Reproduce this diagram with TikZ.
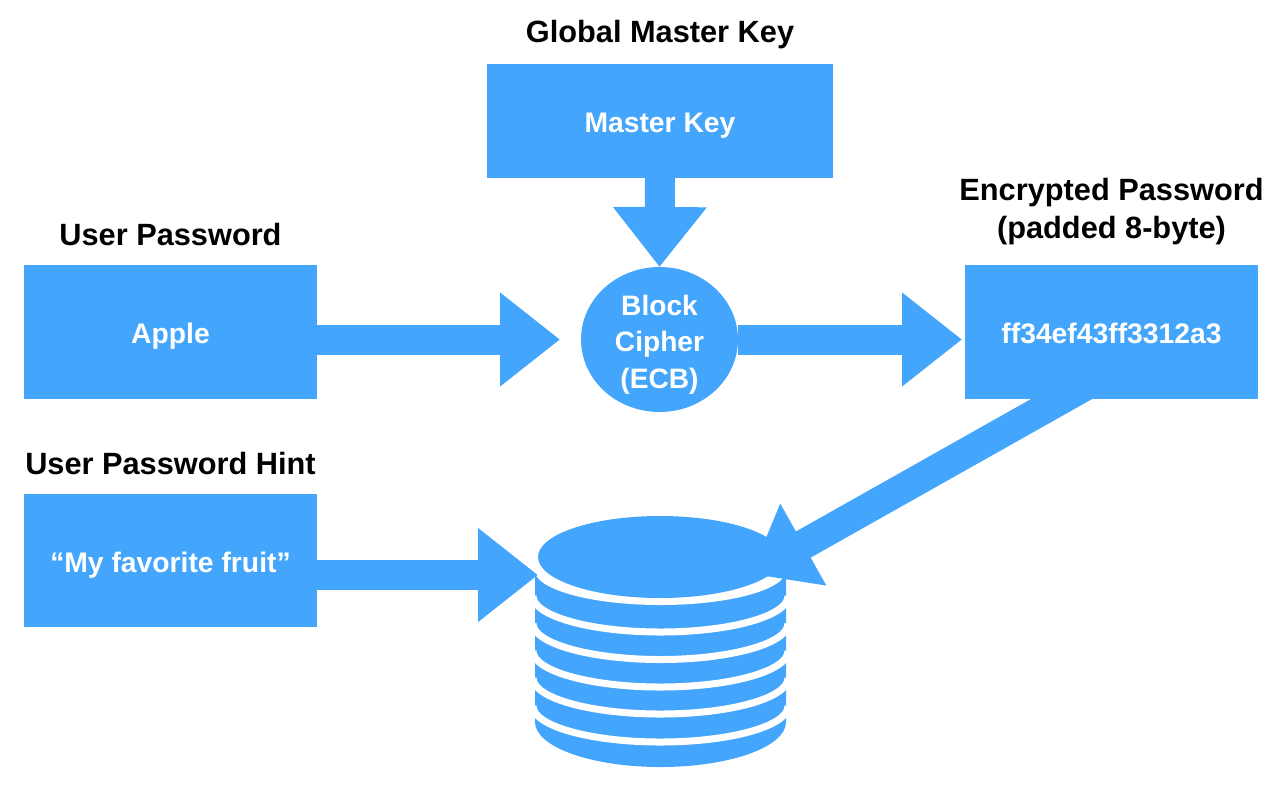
\documentclass[tikz,border=0pt]{standalone}
\usepackage{fontspec}
\setmainfont{Liberation Sans}
\usetikzlibrary{arrows.meta, positioning, shapes.geometric}
\definecolor{keyblue}{HTML}{43A5FB}
\tikzset{
  block/.style={
    rectangle,
    fill=keyblue,
    text=white,
    font=\fontsize{16.1}{20}\selectfont\bfseries,
    align=center,
    text height=13.2pt,
    text depth=0pt,
    inner sep=0pt,
    outer sep=0pt
  },
  heading/.style={
    font=\fontsize{17.5}{21.8}\selectfont\bfseries,
    align=center,
    inner sep=0pt
  },
  bigarrow/.style={
    draw=keyblue,
    line width=0.6cm,
    -{Triangle[length=1.2cm,width=1.8cm]}
  },
  gap/.style={
    draw=white,
    line width=0.14cm
  }
}

\begin{document}
\begin{tikzpicture}[x=0.02cm, y=-0.02cm]
\useasboundingbox (0,0) rectangle (1273,805);

% --- boxes ---
\node (key) [block, minimum width=6.92cm, minimum height=2.28cm] at (660,121) {Master Key};
\node (pwd) [block, minimum width=5.86cm, minimum height=2.68cm] at (170.5,332) {Apple};
\node (enc) [block, minimum width=5.86cm, minimum height=2.68cm] at (1111.5,332) {ff34ef43ff3312a3};
\node (hint) [block, minimum width=5.86cm, minimum height=2.66cm] at (170.5,560.5) {“My favorite fruit”};
\node (cipher) [fill=keyblue, text=white, align=center, ellipse, inner sep=-6pt, outer sep=0pt, minimum width=3.14cm, minimum height=2.9cm, font=\fontsize{16}{20.7}\selectfont\bfseries] at (659.5,339.5) {\rule{0pt}{17.3pt}Block\\Cipher\\(ECB)};

% --- headings ---
\node (keytitle) [heading, above=0.29cm of key] {Global Master Key};
\node (pwdtitle) [heading, above=0.37cm of pwd] {User Password};
\node (hinttitle) [heading, above=0.37cm of hint] {User Password Hint};
\node (enctitle) [heading, above=0.39cm of enc] {Encrypted Password\\(padded 8-byte)};

% --- database ---
\fill[keyblue] (535,574) -- (535,722) arc[start angle=180, end angle=0, x radius=125.5, y radius=45] -- (786,574) -- cycle;
\foreach \gapy in {596,623.5,651,678,706} {
  \draw[gap] (533,\gapy) arc[start angle=180, end angle=0, x radius=127.5, y radius=36];
}
\fill[white] (660.5,570) ellipse[x radius=126, y radius=35];
\fill[white] (535,540) rectangle (786,570);
\node (db) [ellipse, fill=keyblue, inner sep=0pt, minimum width=4.88cm, minimum height=1.64cm] at (660,557) {};
\coordinate (dbleft) at (538,575);
\coordinate (dbright) at (751,574);
\coordinate (encout) at (1090,383);

% --- arrows ---
\draw[bigarrow] (key.south) -- (cipher.north);
\draw[bigarrow, shorten >=0.42cm] (pwd.east |- cipher.west) -- (cipher.west);
\draw[bigarrow, shorten >=0.06cm] (cipher.east) -- (cipher.east -| enc.west);
\draw[bigarrow] (hint.east |- dbleft) -- (dbleft);
\draw[bigarrow] (encout) -- (dbright);

\end{tikzpicture}
\end{document}
